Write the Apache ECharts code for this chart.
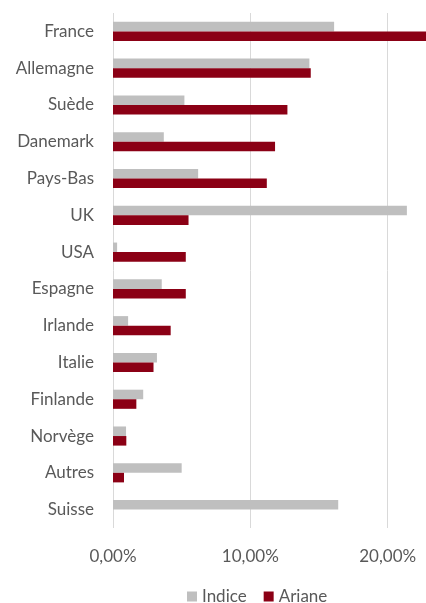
<!DOCTYPE html>
<html>
<head>
<meta charset="utf-8">
<script src="https://cdn.jsdelivr.net/npm/echarts@6/dist/echarts.min.js"></script>
<style>
  html, body { margin: 0; padding: 0; background: #fff; }
  #chart { width: 426px; height: 603px; }
</style>
</head>
<body>
<div id="chart"></div>
<script>
var pays = ['France', 'Allemagne', 'Suède', 'Danemark', 'Pays-Bas', 'UK', 'USA',
    'Espagne', 'Irlande', 'Italie', 'Finlande', 'Norvège', 'Autres', 'Suisse'];
var indice = [16.1, 14.3, 5.2, 3.7, 6.2, 21.4, 0.3, 3.55, 1.1, 3.2, 2.2, 0.95, 5.0, 16.4];
var ariane = [23.0, 14.4, 12.7, 11.8, 11.2, 5.5, 5.3, 5.3, 4.2, 2.95, 1.7, 0.97, 0.8, 0];
var ticksX = [0, 10, 20, 30];

var txt = '#595959';
var police = 'Lato, "Open Sans", sans-serif';

var chart = echarts.init(document.getElementById('chart'));

var option = {
    animation: false,
    textStyle: {fontFamily: police},
    grid: {
        left: 113,
        top: 13,
        bottom: 75,
        right: -99,
        outerBoundsMode: 'none'
    },
    legend: {
        top: 583,
        left: 182,
        itemWidth: 10,
        itemHeight: 10,
        itemGap: 17,
        icon: 'rect',
        textStyle: {color: txt, fontSize: 17, fontFamily: police},
        data: ['Indice', 'Ariane']
    },
    xAxis: {
        type: 'value',
        min: ticksX[0],
        max: ticksX[ticksX.length - 1],
        interval: 10,
        axisLine: {show: false},
        axisTick: {show: false},
        splitLine: {lineStyle: {color: '#D9D9D9', width: 1}},
        axisLabel: {
            color: txt,
            fontSize: 17,
            margin: 20,
            formatter: function (v) {
                return v.toFixed(2).replace('.', ',') + '%';
            }
        }
    },
    yAxis: {
        type: 'category',
        inverse: true,
        data: pays,
        axisLine: {show: false},
        axisTick: {show: false},
        axisLabel: {color: txt, fontSize: 17, margin: 19}
    },
    series: [{
        name: 'Indice',
        type: 'bar',
        data: indice,
        barGap: '0%',
        barCategoryGap: '48%',
        itemStyle: {color: '#BFBFBF'}
    }, {
        name: 'Ariane',
        type: 'bar',
        data: ariane,
        barGap: '0%',
        barCategoryGap: '48%',
        itemStyle: {color: '#8B0015'}
    }]
};

chart.setOption(option);
</script>
</body>
</html>
